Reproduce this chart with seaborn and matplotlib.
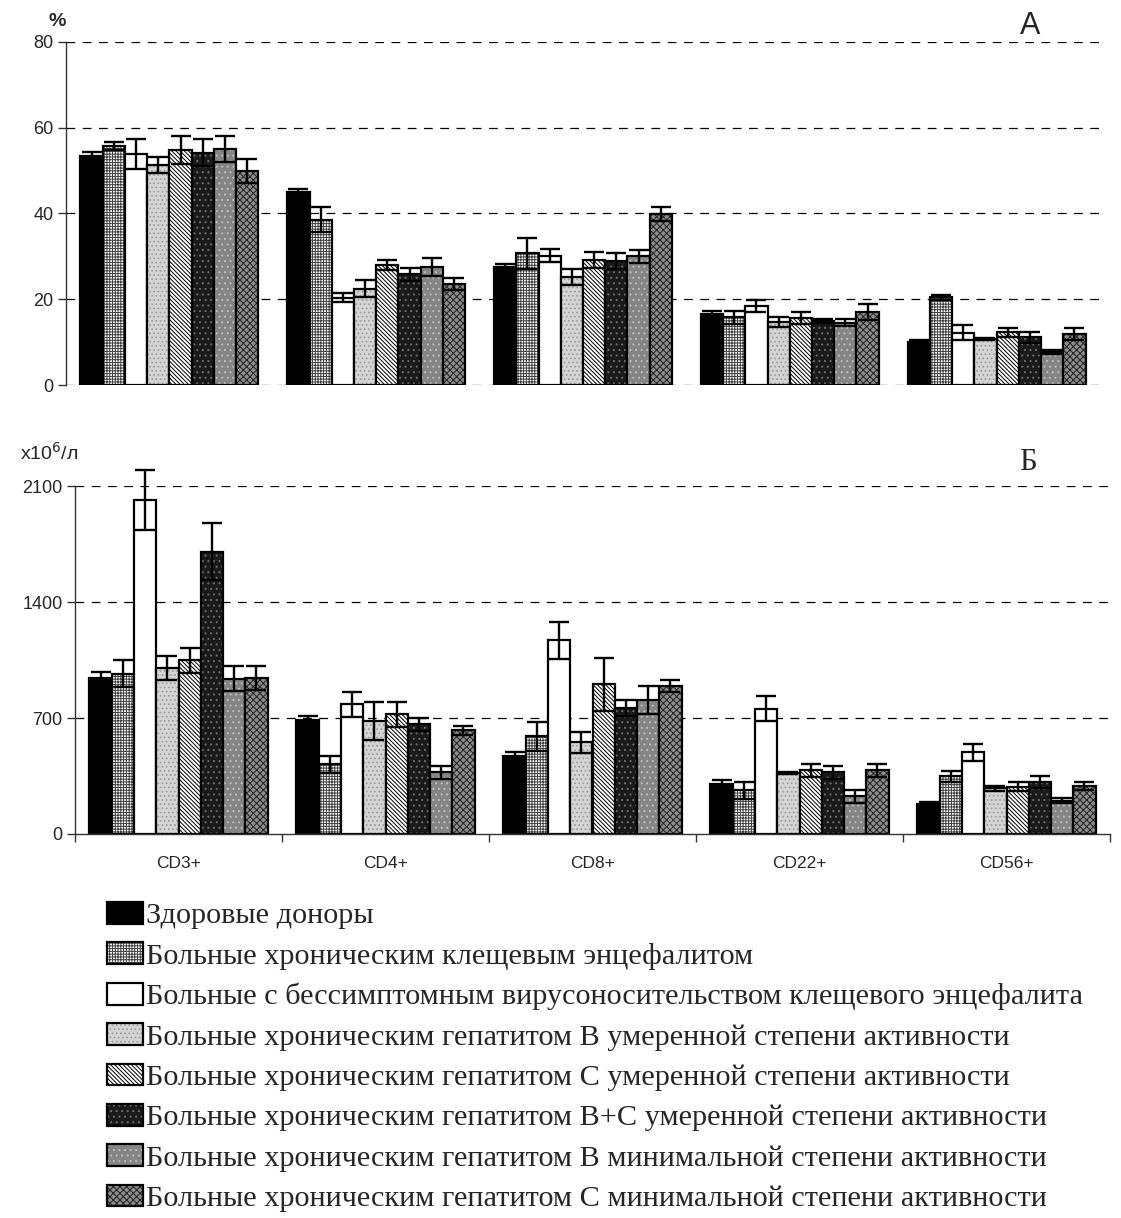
import numpy as np
import pandas as pd
import matplotlib
matplotlib.use("Agg")
import matplotlib.pyplot as plt
import seaborn as sns
from matplotlib.colors import to_rgba

# ---------------- data ----------------
cells = ["CD3+", "CD4+", "CD8+", "CD22+", "CD56+"]
groups = [
    "Здоровые доноры",
    "Больные хроническим клещевым энцефалитом",
    "Больные с бессимптомным вирусоносительством клещевого энцефалита",
    "Больные хроническим гепатитом В умеренной степени активности",
    "Больные хроническим гепатитом С умеренной степени активности",
    "Больные хроническим гепатитом В+С умеренной степени активности",
    "Больные хроническим гепатитом В минимальной степени активности",
    "Больные хроническим гепатитом С минимальной степени активности",
]

# Panel A: percent (rows = groups, cols = cells)
pct_vals = [
    [53.5, 44.9, 27.5, 16.6, 10.0],
    [55.8, 38.6, 30.7, 15.8, 20.5],
    [53.8, 20.4, 30.2, 18.4, 12.2],
    [51.3, 22.5, 25.2, 14.7, 10.7],
    [54.8, 28.0, 29.2, 15.6, 12.3],
    [54.2, 25.8, 28.9, 14.9, 11.1],
    [55.0, 27.5, 30.0, 14.5, 7.7],
    [49.8, 23.6, 39.9, 17.0, 11.9],
]
pct_err = [
    [0.8, 0.8, 0.7, 0.7, 0.5],
    [0.9, 2.8, 3.7, 1.5, 0.6],
    [3.5, 1.1, 1.5, 1.4, 1.8],
    [1.8, 2.0, 1.9, 1.2, 0.2],
    [3.3, 1.2, 1.9, 1.4, 1.0],
    [3.2, 1.5, 1.8, 0.4, 1.3],
    [3.1, 2.1, 1.6, 0.8, 0.5],
    [2.8, 1.4, 1.6, 1.9, 1.3],
]

# Panel Б: absolute counts x10^6/л
abs_vals = [
    [944, 690, 470, 301, 180],
    [968, 420, 589, 263, 347],
    [2015, 783, 1169, 757, 494],
    [1002, 682, 553, 370, 275],
    [1048, 722, 903, 384, 285],
    [1703, 662, 760, 372, 313],
    [938, 372, 809, 227, 202],
    [941, 625, 891, 384, 289],
]
abs_err = [
    [34, 22, 24, 27, 12],
    [80, 50, 87, 50, 36],
    [182, 74, 111, 76, 51],
    [71, 114, 62, 6, 14],
    [75, 74, 159, 38, 28],
    [172, 38, 47, 38, 36],
    [76, 38, 84, 38, 14],
    [73, 26, 37, 38, 24],
]

pct_ticks = [0, 20, 40, 60, 80]
abs_ticks = [0, 700, 1400, 2100]

# styles per group: (facecolor, hatch, hatch colour)
styles = [
    ("#000000", None, "#000000"),
    ("#ffffff", "++++++", "#404040"),
    ("#ffffff", None, "#000000"),
    ("#d4d4d4", "....", "#9a9a9a"),
    ("#ffffff", "\\" * 8, "#000000"),
    ("#1a1a1a", "...", "#707070"),
    ("#858585", "...", "#c0c0c0"),
    ("#8c8c8c", "xxxxx", "#202020"),
]


def long_df(vals):
    rows = []
    for gi, g in enumerate(groups):
        for ci, c in enumerate(cells):
            rows.append({"cell": c, "group": g, "value": vals[gi][ci]})
    return pd.DataFrame(rows)


sns.set_theme(style="white")
plt.rcParams["font.family"] = ["Liberation Sans", "DejaVu Sans"]
plt.rcParams["hatch.linewidth"] = 0.7

W, H = 1121, 1218
fig = plt.figure(figsize=(W / 100, H / 100), dpi=100)
fig.patch.set_facecolor("white")

ax1 = fig.add_axes([66 / W, 1 - 385 / H, (1100 - 66) / W, 343 / H])
ax2 = fig.add_axes([75 / W, 1 - 834 / H, (1110 - 75) / W, 348 / H])


def draw(ax, vals, errs):
    df = long_df(vals)
    sns.barplot(data=df, x="cell", y="value", hue="group", order=cells,
                hue_order=groups, width=0.86, palette=[s[0] for s in styles],
                edgecolor="black", linewidth=1.6, errorbar=None,
                legend=False, ax=ax, saturation=1)
    bar_conts = list(ax.containers)
    for gi, cont in enumerate(bar_conts):
        fc, hatch, hc = styles[gi]
        xs, ys = [], []
        for ci, bar in enumerate(cont.patches):
            bar.set_facecolor(fc)
            bar.set_edgecolor("black")
            if hatch:
                bar.set_hatch(hatch)
                bar._hatch_color = to_rgba(hc)
            xs.append(bar.get_x() + bar.get_width() / 2)
            ys.append(bar.get_height())
        eb = ax.errorbar(xs, ys, yerr=errs[gi], fmt="none", ecolor="black",
                         elinewidth=1.7, capsize=7, capthick=1.7, zorder=5)
        for art in list(eb.lines[1]) + list(eb.lines[2]):
            art.set_clip_on(False)
    ax.set_xlim(-0.5, len(cells) - 0.5)
    ax.set_xlabel("")
    ax.set_ylabel("")
    return bar_conts


conts1 = draw(ax1, pct_vals, pct_err)
conts2 = draw(ax2, abs_vals, abs_err)

# ---- panel A axes ----
ax1.set_ylim(0, 80)
ax1.set_yticks(pct_ticks)
ax1.set_xticks([])
for s in ["top", "right", "bottom"]:
    ax1.spines[s].set_visible(False)
ax1.spines["left"].set_color("#333333")
ax1.spines["left"].set_linewidth(1.0)
ax1.tick_params(axis="y", direction="out", length=6, width=1, color="#333333",
                labelsize=13, pad=3, left=True)
for t in pct_ticks:
    ax1.axhline(t, color="black", lw=0.9, ls=(0, (7, 6)), zorder=0.5)
ax1.set_axisbelow(True)

# ---- panel Б axes ----
ax2.set_ylim(0, 2100)
ax2.set_yticks(abs_ticks)
for s in ["top", "right"]:
    ax2.spines[s].set_visible(False)
for s in ["left", "bottom"]:
    ax2.spines[s].set_color("#333333")
    ax2.spines[s].set_linewidth(1.0)
ax2.tick_params(axis="y", direction="out", length=6, width=1, color="#333333",
                labelsize=13, pad=3, left=True)
ax2.set_xticks(range(len(cells)))
ax2.set_xticklabels(cells)
ax2.set_xticks(np.arange(-0.5, len(cells), 1.0), minor=True)
ax2.tick_params(axis="x", which="major", length=0, labelsize=12.5, pad=16)
ax2.tick_params(axis="x", which="minor", direction="out", length=6, width=1,
                color="#333333", bottom=True)
for t in abs_ticks[1:]:
    ax2.axhline(t, color="black", lw=0.9, ls=(0, (7, 6)), zorder=0.5)

# ---- annotations ----
fig.text(57 / W, 1 - 22 / H, "%", fontsize=14, fontweight="bold",
         ha="center", va="center")
fig.text(1030 / W, 1 - 26 / H, "А", fontsize=22, ha="center", va="center")
fig.text(1028 / W, 1 - 462 / H, "Б", fontsize=22, ha="center", va="center",
         family=["Liberation Serif", "DejaVu Serif"])
fig.text(20 / W, 1 - 453 / H, "x10$^{6}$/л", fontsize=14, ha="left",
         va="center")

# ---- legend ----
handles = [cont.patches[0] for cont in conts2]
fig.legend(handles, groups, loc="upper left",
           bbox_to_anchor=(107 / W, 1 - 902 / H), frameon=False,
           prop={"family": ["Liberation Serif", "DejaVu Serif"], "size": 21.8},
           handlelength=1.18, handleheight=0.72, handletextpad=0.1,
           labelspacing=0.43, borderpad=0, borderaxespad=0)

fig.savefig("out.png", dpi=100, facecolor="white")
